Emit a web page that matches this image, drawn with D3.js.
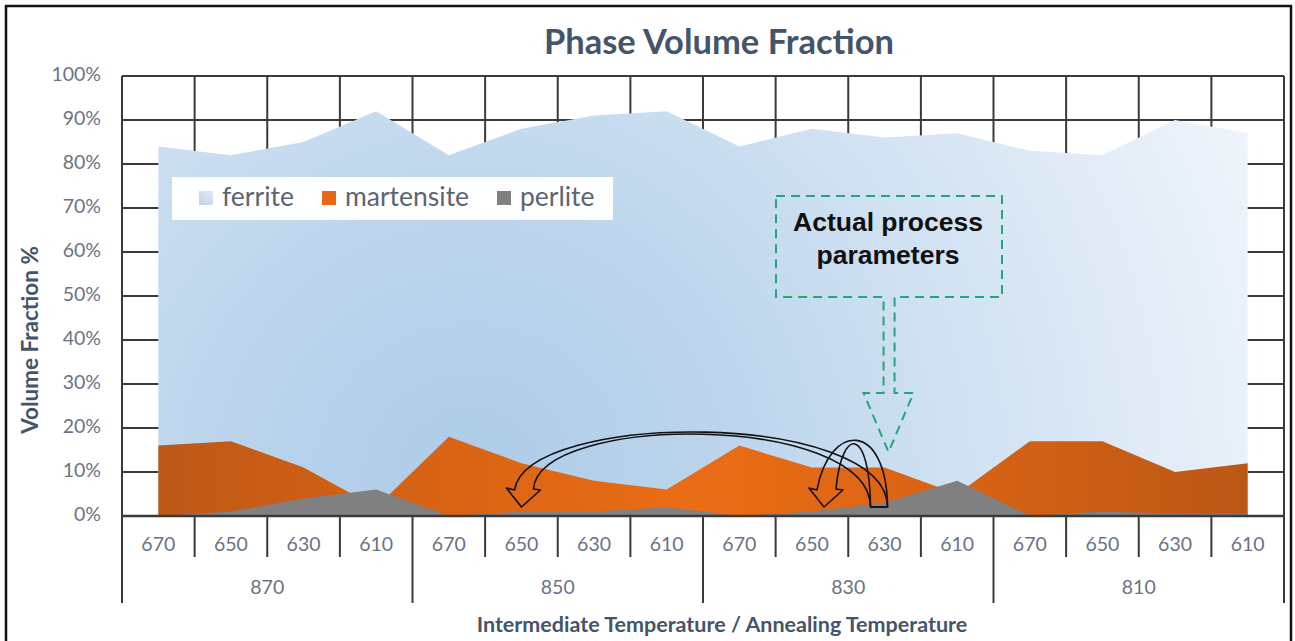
<!DOCTYPE html>
<html>
<head>
<meta charset="utf-8">
<script src="https://cdn.jsdelivr.net/npm/d3@7"></script>
<style>
  html, body { margin: 0; padding: 0; background: #fff; }
  svg { display: block; }
</style>
</head>
<body>
<div id="chart"></div>
<script>
// Annealing temperatures (inner level) and intermediate temperatures (outer level)
const annealTemps = ["670", "650", "630", "610"];
const intermediateTemps = ["870", "850", "830", "810"];

// Phase volume fractions (%) for each intermediate / annealing combination
const ferrite    = [84, 82, 85, 92, 82, 88, 91, 92, 84, 88, 86, 87, 83, 82, 90, 87];
const martensite = [16, 17, 11, 2, 18, 12, 8, 6, 16, 11, 11, 5, 17, 17, 10, 12];
const perlite    = [0, 1, 4, 6, 0, 1, 1, 2, 0, 1, 3, 8, 0, 1, 0.5, 0.5];

const yTicks = [0, 10, 20, 30, 40, 50, 60, 70, 80, 90, 100];
const seriesNames = ["ferrite", "martensite", "perlite"];

// The process that is actually run (830 / 630) and the alternatives it points to
const actualIndex = 10;
const alternativeIndices = [5, 9];

const categories = [];
intermediateTemps.forEach(it => annealTemps.forEach(at => categories.push({ it, at })));
const idx = d3.range(categories.length);

const W = 1295, H = 641;
const svg = d3.select("#chart").append("svg").attr("width", W).attr("height", H);

const x = d3.scaleBand().domain(idx).range([122, 1284]).paddingInner(0).paddingOuter(0);
const y = d3.scaleLinear().domain([0, 100]).range([516, 76]);
const cx = i => x(i) + x.bandwidth() / 2;

const fontCal = "Lato, 'Open Sans', sans-serif";
const gridColor = "#3a3a3a";
const labelColor = "#6a7384";
const titleColor = "#44546a";

// Gradients
const defs = svg.append("defs");
const fg = defs.append("radialGradient").attr("id", "ferriteFill")
  .attr("gradientUnits", "userSpaceOnUse")
  .attr("cx", 470).attr("cy", 480).attr("r", 880)
  .attr("fx", 470).attr("fy", 480);
[[0, "#adcbe8"], [0.3, "#bcd5ec"], [0.6, "#d3e3f3"], [1, "#f1f6fb"]]
  .forEach(([o, c]) => fg.append("stop").attr("offset", o).attr("stop-color", c));

const mg = defs.append("linearGradient").attr("id", "martFill")
  .attr("gradientUnits", "userSpaceOnUse")
  .attr("x1", cx(0)).attr("y1", 0).attr("x2", cx(15)).attr("y2", 0);
[[0, "#bd5816"], [0.25, "#d86314"], [0.5, "#eb6c15"], [0.75, "#d66214"], [1, "#bb5715"]]
  .forEach(([o, c]) => mg.append("stop").attr("offset", o).attr("stop-color", c));

const lg = defs.append("linearGradient").attr("id", "legFerrite")
  .attr("x1", 0).attr("y1", 1).attr("x2", 1).attr("y2", 0);
[[0, "#bcd4ec"], [1, "#dde9f6"]]
  .forEach(([o, c]) => lg.append("stop").attr("offset", o).attr("stop-color", c));

// Outer frame
svg.append("rect").attr("x", 6).attr("y", 6).attr("width", 1285).attr("height", 660)
  .attr("fill", "none").attr("stroke", "#111").attr("stroke-width", 2.5);

// Title
svg.append("text").attr("x", 719).attr("y", 45)
  .attr("text-anchor", "middle").attr("dominant-baseline", "middle")
  .attr("font-family", fontCal).attr("font-weight", "bold").attr("font-size", 34.5)
  .attr("fill", titleColor).text("Phase Volume Fraction");

// Gridlines (behind the areas)
const grid = svg.append("g");
grid.selectAll("line.h").data(yTicks).join("line")
  .attr("x1", x.range()[0]).attr("x2", x.range()[1])
  .attr("y1", d => y(d)).attr("y2", d => y(d))
  .attr("stroke", gridColor).attr("stroke-width", 2);
grid.selectAll("line.v").data(d3.range(categories.length + 1)).join("line")
  .attr("x1", i => x.range()[0] + i * x.bandwidth()).attr("x2", i => x.range()[0] + i * x.bandwidth())
  .attr("y1", y(100)).attr("y2", y(0))
  .attr("stroke", gridColor).attr("stroke-width", 2);

// Areas, each measured from zero and overlapping
const area = vals => d3.area().x((d, i) => cx(i)).y0(y(0)).y1(d => y(d)).curve(d3.curveLinear)(vals);
svg.append("path").attr("d", area(ferrite)).attr("fill", "url(#ferriteFill)");
svg.append("path").attr("d", area(martensite)).attr("fill", "url(#martFill)");
svg.append("path").attr("d", area(perlite)).attr("fill", "#808080");

// Y tick labels
svg.append("g").selectAll("text").data(yTicks).join("text")
  .attr("x", 101).attr("y", d => y(d))
  .attr("text-anchor", "end").attr("dominant-baseline", "middle")
  .attr("font-family", fontCal).attr("font-size", 19.5).attr("fill", labelColor)
  .text(d => d + "%");

// Category axis: line, ticks and the two label levels
const axisG = svg.append("g");
axisG.append("line").attr("x1", x.range()[0]).attr("x2", x.range()[1])
  .attr("y1", y(0)).attr("y2", y(0)).attr("stroke", gridColor).attr("stroke-width", 2.5);
axisG.selectAll("line.t1").data(d3.range(categories.length + 1)).join("line")
  .attr("x1", i => x.range()[0] + i * x.bandwidth()).attr("x2", i => x.range()[0] + i * x.bandwidth())
  .attr("y1", y(0)).attr("y2", i => (i % annealTemps.length === 0) ? 603 : 557)
  .attr("stroke", gridColor).attr("stroke-width", 2);
axisG.selectAll("text.l1").data(idx).join("text")
  .attr("x", i => cx(i)).attr("y", 546)
  .attr("text-anchor", "middle").attr("dominant-baseline", "middle")
  .attr("font-family", fontCal).attr("font-size", 19.5).attr("fill", labelColor)
  .text(i => categories[i].at);
axisG.selectAll("text.l2").data(intermediateTemps).join("text")
  .attr("x", (d, g) => x.range()[0] + (g + 0.5) * annealTemps.length * x.bandwidth())
  .attr("y", 589)
  .attr("text-anchor", "middle").attr("dominant-baseline", "middle")
  .attr("font-family", fontCal).attr("font-size", 19.5).attr("fill", labelColor)
  .text(d => d);

// Axis titles
svg.append("text").attr("x", 722).attr("y", 626)
  .attr("text-anchor", "middle").attr("dominant-baseline", "middle")
  .attr("font-family", fontCal).attr("font-weight", "bold").attr("font-size", 21.5)
  .attr("fill", titleColor).text("Intermediate Temperature / Annealing Temperature");
svg.append("text").attr("transform", "translate(32,340) rotate(-90)")
  .attr("text-anchor", "middle").attr("dominant-baseline", "middle")
  .attr("font-family", fontCal).attr("font-weight", "bold").attr("font-size", 22.5)
  .attr("fill", titleColor).text("Volume Fraction %");

// Legend
const leg = svg.append("g");
leg.append("rect").attr("x", 172).attr("y", 177).attr("width", 441).attr("height", 43).attr("fill", "#fff");
const legItems = [
  { name: seriesNames[0], fill: "url(#legFerrite)", sx: 199, tx: 222 },
  { name: seriesNames[1], fill: "#e46815", sx: 322, tx: 345 },
  { name: seriesNames[2], fill: "#808080", sx: 497, tx: 520 }
];
leg.selectAll("rect.sw").data(legItems).join("rect")
  .attr("x", d => d.sx).attr("y", 191).attr("width", 14).attr("height", 14).attr("fill", d => d.fill);
leg.selectAll("text").data(legItems).join("text")
  .attr("x", d => d.tx).attr("y", 199).attr("dominant-baseline", "middle")
  .attr("font-family", fontCal).attr("font-size", 26.5).attr("fill", "#5b6475")
  .text(d => d.name);

// Callout with dashed down-arrow
const calloutX = cx(actualIndex) + 4;
const co = d3.path();
co.moveTo(776, 196); co.lineTo(1002, 196); co.lineTo(1002, 297);
co.lineTo(calloutX + 6, 297); co.lineTo(calloutX + 6, 393); co.lineTo(calloutX + 25, 393);
co.lineTo(calloutX, 452);
co.lineTo(calloutX - 25, 393); co.lineTo(calloutX - 5, 393); co.lineTo(calloutX - 5, 297);
co.lineTo(776, 297); co.closePath();
svg.append("path").attr("d", co.toString()).attr("fill", "none")
  .attr("stroke", "#22a67a").attr("stroke-width", 2).attr("stroke-dasharray", "9,6");
svg.append("text").attr("x", 888).attr("y", 224)
  .attr("text-anchor", "middle").attr("dominant-baseline", "middle")
  .attr("font-family", "'Liberation Sans', Arial, sans-serif").attr("font-weight", "bold")
  .attr("font-size", 26.5).attr("fill", "#111").text("Actual process");
svg.append("text").attr("x", 888).attr("y", 257)
  .attr("text-anchor", "middle").attr("dominant-baseline", "middle")
  .attr("font-family", "'Liberation Sans', Arial, sans-serif").attr("font-weight", "bold")
  .attr("font-size", 26.5).attr("fill", "#111").text("parameters");

// Curved block arrows from the actual process to the alternatives
function curvedArrow(baseX, tipX, peakCtrl, innerCtrl, headW) {
  const p = d3.path();
  const b = y(0) - 9;
  p.moveTo(baseX + 3, b);
  p.bezierCurveTo(baseX + 2, peakCtrl, tipX + 6, peakCtrl, tipX - 7, b - 17);
  p.lineTo(tipX - headW, b - 19);
  p.lineTo(tipX, b);
  p.lineTo(tipX + headW + 4, b - 17);
  p.lineTo(tipX + 12, b - 18);
  p.bezierCurveTo(tipX + 18, innerCtrl, baseX - 15, innerCtrl, baseX - 14, b);
  p.closePath();
  return p.toString();
}
const arrowsG = svg.append("g").attr("fill", "none").attr("stroke", "#111").attr("stroke-width", 1.6)
  .attr("stroke-linejoin", "round");
arrowsG.append("path").attr("d", curvedArrow(cx(actualIndex), cx(alternativeIndices[0]), 410, 413, 15));
arrowsG.append("path").attr("d", curvedArrow(cx(actualIndex), cx(alternativeIndices[1]) + 12, 421, 426, 15));
</script>
</body>
</html>
